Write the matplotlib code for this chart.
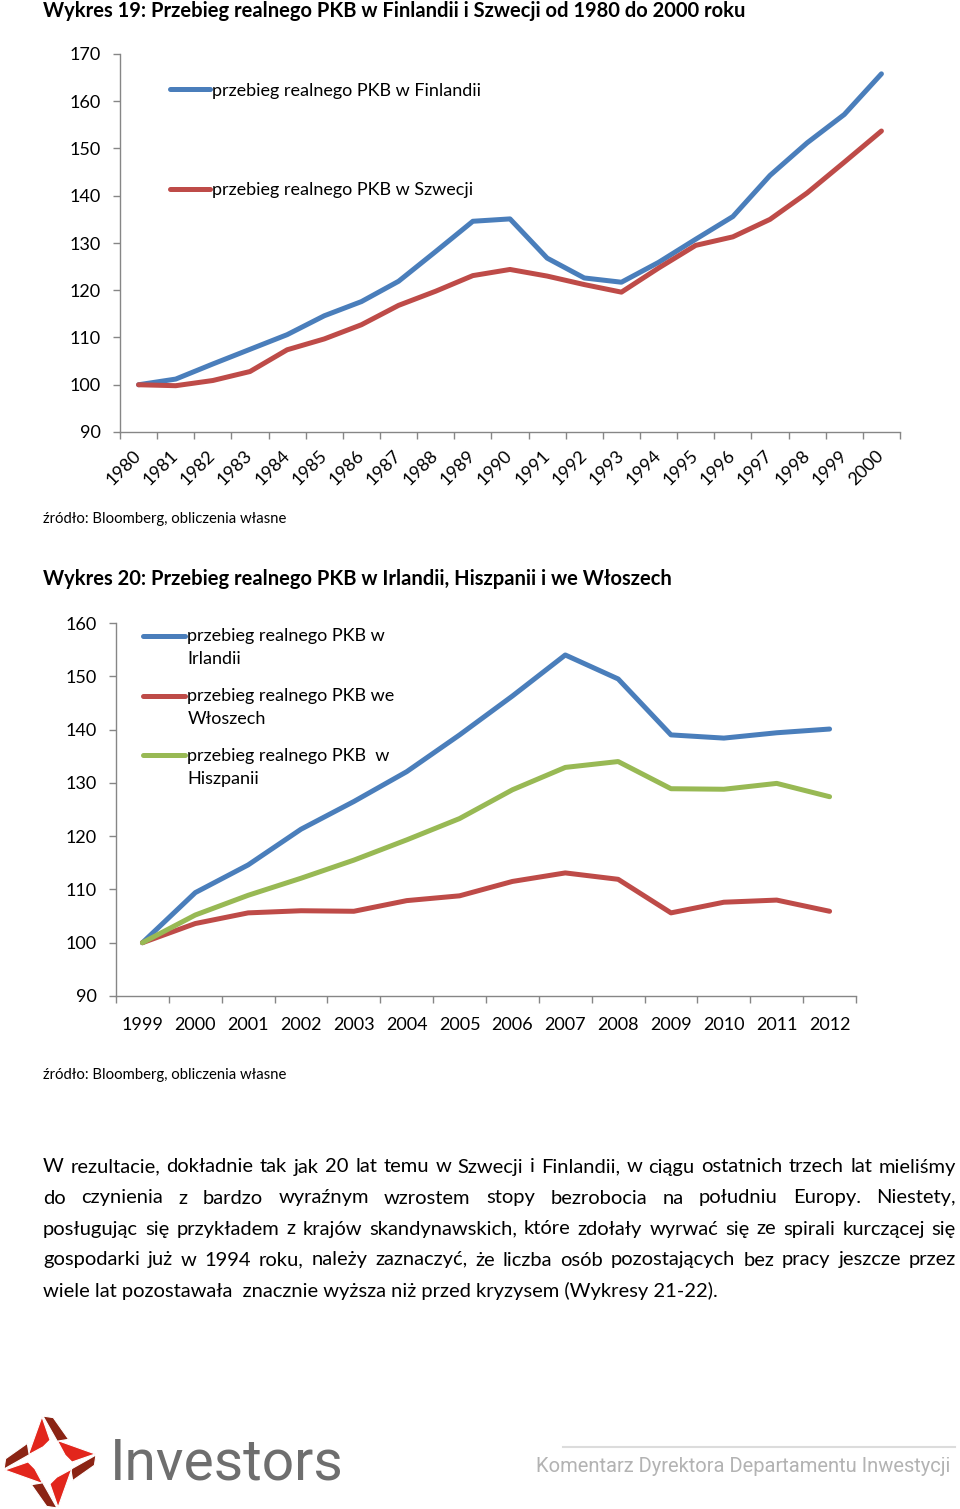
import numpy as np
import matplotlib
matplotlib.use("Agg")
import matplotlib.pyplot as plt
from matplotlib.legend_handler import HandlerLine2D
from matplotlib.patches import Polygon

# ---------------- data ----------------
years1 = [str(y) for y in range(1980, 2001)]
finland = [100, 101.2, 104.4, 107.5, 110.6, 114.6, 117.6, 121.9, 128.2, 134.6, 135.1,
           126.8, 122.6, 121.7, 125.9, 130.8, 135.6, 144.3, 151.2, 157.2, 165.8]
sweden = [100, 99.8, 100.9, 102.8, 107.4, 109.7, 112.7, 116.8, 119.8, 123.1, 124.4,
          123.0, 121.2, 119.6, 124.7, 129.5, 131.3, 135.0, 140.6, 147.1, 153.7]
yticks1 = [90, 100, 110, 120, 130, 140, 150, 160, 170]

years2 = [str(y) for y in range(1999, 2013)]
ireland = [100, 109.4, 114.6, 121.3, 126.5, 132.1, 139.0, 146.3, 154.0, 149.5, 139.0, 138.4, 139.4, 140.1]
italy = [100, 103.6, 105.6, 106.0, 105.9, 107.9, 108.8, 111.5, 113.1, 111.9, 105.6, 107.6, 108.0, 105.9]
spain = [100, 105.2, 108.9, 112.1, 115.5, 119.3, 123.3, 128.7, 132.9, 134.0, 128.9, 128.8, 129.9, 127.4]
yticks2 = [90, 100, 110, 120, 130, 140, 150, 160]

label_fin = "przebieg realnego PKB w Finlandii"
label_swe = "przebieg realnego PKB w Szwecji"
label_irl = "przebieg realnego PKB w\nIrlandii"
label_ita = "przebieg realnego PKB we\nWłoszech"
label_esp = "przebieg realnego PKB  w\nHiszpanii"

title1 = "Wykres 19: Przebieg realnego PKB w Finlandii i Szwecji od 1980 do 2000 roku"
title2 = "Wykres 20: Przebieg realnego PKB w Irlandii, Hiszpanii i we Włoszech"
source = "źródło: Bloomberg, obliczenia własne"
paragraph = [
    "W rezultacie, dokładnie tak jak 20 lat temu w Szwecji i Finlandii, w ciągu ostatnich trzech lat mieliśmy",
    "do czynienia z bardzo wyraźnym wzrostem stopy bezrobocia na południu Europy. Niestety,",
    "posługując się przykładem z krajów skandynawskich, które zdołały wyrwać się ze spirali kurczącej się",
    "gospodarki już w 1994 roku, należy zaznaczyć, że liczba osób pozostających bez pracy jeszcze przez",
    "wiele lat pozostawała  znacznie wyższa niż przed kryzysem (Wykresy 21-22).",
]
brand = "Investors"
footer = "Komentarz Dyrektora Departamentu Inwestycji"

BLUE = "#4a7ebb"
RED = "#be4b48"
GREEN = "#98b954"
AXC = "#868686"
FONT = ["Lato", "DejaVu Sans"]
NARROW = ["Liberation Sans Narrow", "Roboto", "DejaVu Sans"]

plt.rcParams["font.family"] = FONT

W, H = 960, 1509
fig = plt.figure(figsize=(W / 100, H / 100), dpi=100)


def px_axes(x0, y0, x1, y1):
    return fig.add_axes([x0 / W, 1 - y1 / H, (x1 - x0) / W, (y1 - y0) / H])


class HandlerUp(HandlerLine2D):
    def __init__(self, shift, **kw):
        super().__init__(**kw)
        self.shift = shift

    def create_artists(self, legend, orig_handle, xdescent, ydescent, width, height, fontsize, trans):
        return super().create_artists(legend, orig_handle, xdescent, ydescent - 2 * self.shift,
                                      width, height, fontsize, trans)


def style_axes(ax, n, ylim, yticks, fs):
    ax.set_xlim(-0.5, n - 0.5)
    ax.set_ylim(*ylim)
    ax.set_yticks(yticks)
    ax.set_xticks(np.arange(-0.5, n, 1.0))
    ax.set_xticklabels([])
    ax.set_xticks(np.arange(n), minor=True)
    for s in ("top", "right"):
        ax.spines[s].set_visible(False)
    for s in ("left", "bottom"):
        ax.spines[s].set_color(AXC)
        ax.spines[s].set_linewidth(1.0)
    ax.tick_params(axis="both", which="major", direction="out", length=5, width=1.0, color=AXC,
                   labelsize=fs, labelcolor="black")
    ax.tick_params(axis="x", which="minor", length=0, labelsize=fs, labelcolor="black")
    ax.tick_params(axis="y", which="major", pad=9)
    ax.set_facecolor("none")


lw = 3.6

# ---------------- chart 1 ----------------
ax1 = px_axes(120, 54, 900, 432)
x1 = np.arange(len(years1))
l_fin, = ax1.plot(x1, finland, color=BLUE, lw=lw, solid_joinstyle="round", solid_capstyle="round")
l_swe, = ax1.plot(x1, sweden, color=RED, lw=lw, solid_joinstyle="round", solid_capstyle="round")
style_axes(ax1, len(years1), (90, 170), yticks1, 13)
ax1.set_xticklabels(years1, minor=True, rotation=45, ha="right", va="center", rotation_mode="anchor")
ax1.tick_params(axis="x", which="minor", pad=15)
ax1.legend([l_fin, l_swe], [label_fin, label_swe], loc="upper left",
           bbox_to_anchor=(0.064, 0.924), frameon=False, fontsize=13, borderpad=0, borderaxespad=0,
           handlelength=2.2, handletextpad=0.15, labelspacing=4.63)

# ---------------- chart 2 ----------------
ax2 = px_axes(116, 623, 856, 996)
x2 = np.arange(len(years2))
l_irl, = ax2.plot(x2, ireland, color=BLUE, lw=lw, solid_joinstyle="round", solid_capstyle="round")
l_ita, = ax2.plot(x2, italy, color=RED, lw=lw, solid_joinstyle="round", solid_capstyle="round")
l_esp, = ax2.plot(x2, spain, color=GREEN, lw=lw, solid_joinstyle="round", solid_capstyle="round")
style_axes(ax2, len(years2), (90, 160), yticks2, 13)
ax2.set_xticklabels(years2, minor=True)
ax2.tick_params(axis="x", which="minor", pad=15)
hmap = {h: HandlerUp(8.64) for h in (l_irl, l_ita, l_esp)}
leg2 = ax2.legend([l_irl, l_ita, l_esp], [label_irl, label_ita, label_esp], loc="upper left",
                  bbox_to_anchor=(0.0365, 0.987), frameon=False, fontsize=13, borderpad=0,
                  borderaxespad=0, handlelength=2.3, handletextpad=0.15, labelspacing=1.14,
                  handler_map=hmap)
for t in leg2.get_texts():
    t.set_linespacing(1.56)

# ---------------- overlay (texts, logo) ----------------
ov = fig.add_axes([0, 0, 1, 1], zorder=-1)
ov.set_xlim(0, W)
ov.set_ylim(H, 0)
ov.axis("off")

ov.text(43, 11, title1, fontsize=14.5, fontweight="bold", ha="left", va="center")
ov.text(43, 579, title2, fontsize=14.5, fontweight="bold", ha="left", va="center")
ov.text(43, 519, source, fontsize=10.7, ha="left", va="center")
ov.text(43, 1075, source, fontsize=10.7, ha="left", va="center")

renderer = fig.canvas.get_renderer()
para_y = [1167, 1198, 1229, 1260, 1291]
PX0, PX1 = 43, 956
PFS = 14.5
for i, (line, y) in enumerate(zip(paragraph, para_y)):
    if i == len(paragraph) - 1:
        ov.text(PX0, y, line, fontsize=PFS, ha="left", va="center")
        continue
    words = line.split(" ")
    ts = [ov.text(0, y, w, fontsize=PFS, ha="left", va="center") for w in words]
    widths = [t.get_window_extent(renderer=renderer).width for t in ts]
    gap = (PX1 - PX0 - sum(widths)) / (len(words) - 1)
    x = PX0
    for t, wdt in zip(ts, widths):
        t.set_x(x)
        x += wdt + gap

# logo
c = np.array([50.0, 1462.0])
R = 46.0
red_local = [(1.0, 0.01), (0.47, -0.08), (0.35, 0.09), (0.23, 0.44)]
dark_local = [(1.01, -0.015), (0.94, -0.23), (0.42, -0.48), (0.42, -0.23)]
for k in range(4):
    th = np.deg2rad(9.5 + 90 * k)
    u = np.array([np.cos(th), -np.sin(th)])
    p = np.array([-np.sin(th), -np.cos(th)])
    for shape, col in ((red_local, "#e2261c"), (dark_local, "#8b2414")):
        pts = [c + R * (a * u + b * p) for a, b in shape]
        ov.add_patch(Polygon(pts, closed=True, facecolor=col, edgecolor="white", lw=0.8))

ov.text(110, 1464, brand, fontsize=41, color="#6e6e6e", family=NARROW, ha="left", va="center")
ov.plot([563, 955], [1447, 1447], color="#dcdcdc", lw=1.5)
ov.text(950, 1467, footer, fontsize=14.5, color="#b3b3b3", family=NARROW, ha="right", va="center")

fig.savefig("out.png", dpi=100)
